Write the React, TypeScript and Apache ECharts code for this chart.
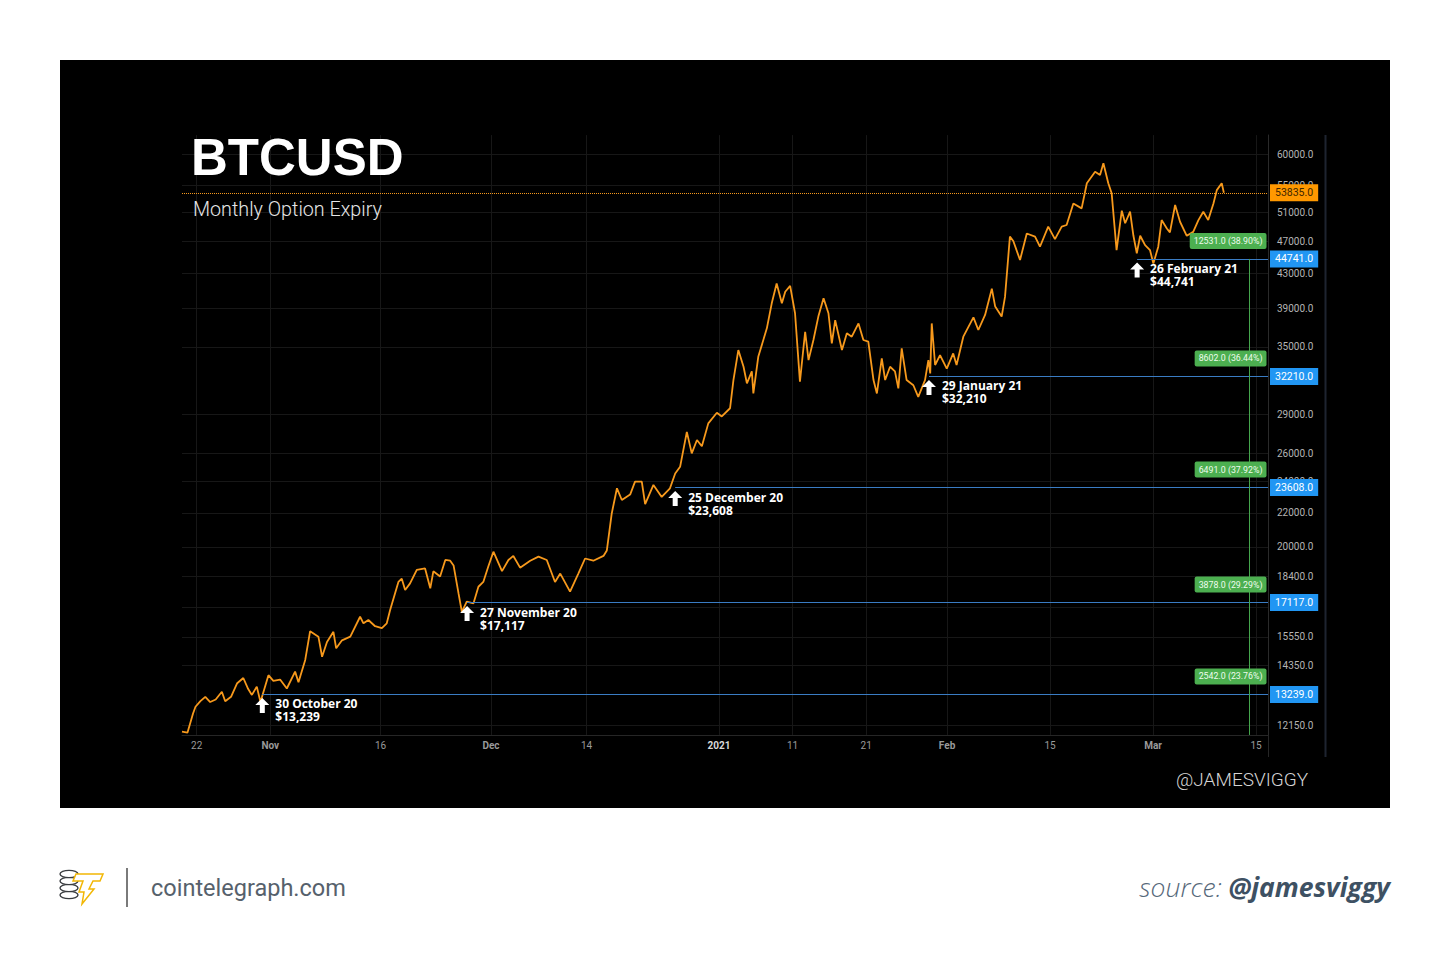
import React, { useEffect, useRef } from "react";
import * as echarts from "echarts";

// ---- price path (BTCUSD) ----
const times: string[] = [
  "2020-10-20T00:00", "2020-10-20T18:00", "2020-10-21T12:00", "2020-10-21T20:00", "2020-10-22T12:00",
  "2020-10-23T04:00", "2020-10-23T20:00", "2020-10-24T14:00", "2020-10-25T10:00", "2020-10-25T21:00",
  "2020-10-26T16:00", "2020-10-27T12:00", "2020-10-28T08:00", "2020-10-29T00:00", "2020-10-29T12:00",
  "2020-10-30T04:00", "2020-10-30T16:00", "2020-10-31T18:00", "2020-11-01T10:00", "2020-11-02T08:00",
  "2020-11-03T06:00", "2020-11-04T09:00", "2020-11-04T20:00", "2020-11-05T18:00", "2020-11-06T10:00",
  "2020-11-07T13:00", "2020-11-08T01:00", "2020-11-08T17:00", "2020-11-09T14:00", "2020-11-09T23:00",
  "2020-11-10T18:00", "2020-11-11T21:00", "2020-11-13T05:00", "2020-11-13T16:00", "2020-11-14T08:00",
  "2020-11-15T06:00", "2020-11-16T04:00", "2020-11-16T20:00", "2020-11-17T07:00", "2020-11-18T10:00",
  "2020-11-18T21:00", "2020-11-19T08:00", "2020-11-20T00:00", "2020-11-20T22:00", "2020-11-22T01:00",
  "2020-11-22T18:00", "2020-11-23T04:00", "2020-11-24T02:00", "2020-11-24T19:00", "2020-11-25T11:00",
  "2020-11-25T22:00", "2020-11-26T14:00", "2020-11-27T01:00", "2020-11-27T17:00", "2020-11-28T15:00",
  "2020-11-29T07:00", "2020-11-29T23:00", "2020-11-30T15:00", "2020-12-01T08:00", "2020-12-02T12:00",
  "2020-12-03T09:00", "2020-12-04T01:00", "2020-12-04T23:00", "2020-12-06T08:00", "2020-12-07T11:00",
  "2020-12-08T14:00", "2020-12-09T17:00", "2020-12-10T10:00", "2020-12-11T18:00", "2020-12-12T21:00",
  "2020-12-13T19:00", "2020-12-14T22:00", "2020-12-16T07:00", "2020-12-16T18:00", "2020-12-17T10:00",
  "2020-12-18T03:00", "2020-12-18T19:00", "2020-12-19T22:00", "2020-12-20T14:00", "2020-12-21T12:00",
  "2020-12-21T23:00", "2020-12-23T02:00", "2020-12-24T05:00", "2020-12-25T08:00", "2020-12-26T01:00",
  "2020-12-26T17:00", "2020-12-27T15:00", "2020-12-28T07:00", "2020-12-29T00:00", "2020-12-29T16:00",
  "2020-12-30T13:00", "2020-12-31T17:00", "2021-01-01T09:00", "2021-01-02T12:00", "2021-01-02T23:00",
  "2021-01-03T15:00", "2021-01-04T08:00", "2021-01-04T19:00", "2021-01-05T11:00", "2021-01-05T16:00",
  "2021-01-06T08:00", "2021-01-07T12:00", "2021-01-08T04:00", "2021-01-08T20:00", "2021-01-09T13:00",
  "2021-01-10T00:00", "2021-01-10T16:00", "2021-01-11T08:00", "2021-01-12T00:00", "2021-01-12T17:00",
  "2021-01-13T04:00", "2021-01-13T20:00", "2021-01-14T12:00", "2021-01-15T05:00", "2021-01-15T21:00",
  "2021-01-16T08:00", "2021-01-16T19:00", "2021-01-17T17:00", "2021-01-18T09:00", "2021-01-19T01:00",
  "2021-01-19T23:00", "2021-01-20T15:00", "2021-01-21T07:00", "2021-01-22T00:00", "2021-01-22T11:00",
  "2021-01-23T03:00", "2021-01-23T14:00", "2021-01-24T06:00", "2021-01-24T22:00", "2021-01-25T09:00",
  "2021-01-25T20:00", "2021-01-26T12:00", "2021-01-27T10:00", "2021-01-28T02:00", "2021-01-29T00:00",
  "2021-01-29T11:00", "2021-01-29T17:00", "2021-01-29T22:00", "2021-01-30T09:00", "2021-01-31T01:00",
  "2021-01-31T23:00", "2021-02-01T20:00", "2021-02-02T07:00", "2021-02-03T05:00", "2021-02-04T14:00",
  "2021-02-05T06:00", "2021-02-06T04:00", "2021-02-07T02:00", "2021-02-07T13:00", "2021-02-08T10:00",
  "2021-02-08T21:00", "2021-02-09T13:00", "2021-02-10T00:00", "2021-02-10T22:00", "2021-02-11T20:00",
  "2021-02-12T23:00", "2021-02-13T15:00", "2021-02-14T18:00", "2021-02-15T16:00", "2021-02-16T14:00",
  "2021-02-17T06:00", "2021-02-18T04:00", "2021-02-19T07:00", "2021-02-20T00:00", "2021-02-21T03:00",
  "2021-02-21T19:00", "2021-02-22T06:00", "2021-02-22T22:00", "2021-02-23T09:00", "2021-02-24T01:00",
  "2021-02-24T18:00", "2021-02-25T05:00", "2021-02-25T21:00", "2021-02-26T08:00", "2021-02-26T19:00",
  "2021-02-27T06:00", "2021-02-27T22:00", "2021-02-28T14:00", "2021-03-01T01:00", "2021-03-01T17:00",
  "2021-03-02T04:00", "2021-03-02T21:00", "2021-03-03T07:00", "2021-03-04T00:00", "2021-03-04T16:00",
  "2021-03-05T14:00", "2021-03-06T11:00", "2021-03-07T04:00", "2021-03-07T20:00", "2021-03-08T12:00",
  "2021-03-09T05:00", "2021-03-09T16:00", "2021-03-10T08:00", "2021-03-10T15:00",
];

const prices: number[] = [
  11930, 11900, 12550, 12790, 12990,
  13150, 12960, 13050, 13340, 12990,
  13150, 13660, 13860, 13440, 13220,
  13530, 12960, 13970, 13750, 13800,
  13460, 14110, 13700, 14580, 15800,
  15560, 14710, 15330, 15770, 15060,
  15400, 15560, 16450, 16150, 16300,
  16020, 15930, 16150, 16760, 18130,
  18300, 17730, 18060, 18750, 18830,
  17810, 18680, 18410, 19280, 19240,
  18990, 17570, 16680, 17160, 17080,
  17890, 18130, 18920, 19730, 18690,
  19280, 19500, 18870, 19240, 19460,
  19280, 18130, 18560, 17650, 18560,
  19360, 19240, 19500, 19800, 21960,
  23560, 22800, 23150, 24000, 24000,
  22540, 23780, 23000, 23560, 24560,
  25020, 27590, 25980, 26970, 26500,
  28250, 29100, 28800, 29470, 31890,
  34680, 33100, 31590, 32670, 30720,
  34030, 36850, 39520, 41780, 39520,
  40820, 41500, 38440, 31750, 36500,
  33720, 35670, 38080, 40090, 38440,
  35330, 37710, 34680, 36340, 36000,
  37360, 35670, 35500, 31890, 30720,
  33880, 31890, 33100, 32670, 31150,
  34840, 31890, 31430, 30430, 31890,
  33720, 32490, 37360, 33260, 34200,
  32930, 34350, 33260, 36000, 38000,
  36680, 38260, 41180, 39160, 38080,
  40240, 47620, 47050, 44610, 48040,
  47620, 46300, 48980, 47300, 48980,
  49200, 52260, 51540, 55300, 57090,
  56570, 58470, 55300, 53760, 45870,
  51210, 49440, 51060, 47740, 45460,
  47740, 46500, 45870, 44180, 46300,
  49880, 48720, 48200, 52030, 49650,
  47740, 48260, 49880, 51060, 49880,
  52260, 54240, 55300, 53835,
];

// ---- axes ----
const yTicks: number[] = [60000, 55000, 51000, 47000, 43000, 39000, 35000, 29000, 26000, 24000, 22000, 20000, 18400, 16900, 15550, 14350, 12150];
const xTickDates: string[] = ["2020-10-22", "2020-11-01", "2020-11-16", "2020-12-01", "2020-12-14", "2021-01-01", "2021-01-11", "2021-01-21", "2021-02-01", "2021-02-15", "2021-03-01", "2021-03-15"];
const xTickLabels: string[] = ["22", "Nov", "16", "Dec", "14", "2021", "11", "21", "Feb", "15", "Mar", "15"];
const xMinDate = "2020-10-20T00:00";
const xMaxDate = "2021-03-16T15:00";
const yMin = 11818;
const yMax = 63280;

// ---- monthly option expiries ----
const expiryDates: string[] = ["2020-10-30T22:00", "2020-11-27T18:00", "2020-12-26T01:00", "2021-01-29T13:00", "2021-02-26T20:00"];
const expiryNames: string[] = ["30 October 20", "27 November 20", "25 December 20", "29 January 21", "26 February 21"];
const expiryLevels: number[] = [13239, 17117, 23608, 32210, 44741];
const gainLabels: string[] = ["2542.0 (23.76%)", "3878.0 (29.29%)", "6491.0 (37.92%)", "8602.0 (36.44%)", "12531.0 (38.90%)"];
const lastPrice = 53835;
const measureDate = "2021-03-14T01:00";

const ts = (s: string): number => Date.parse(s.length === 10 ? `${s}T00:00:00Z` : `${s}:00Z`);
const money = (v: number): string => "$" + String(v).replace(/\B(?=(\d{3})+(?!\d))/g, ",");

const ORANGE = "#f7991c";
const BLUE_LINE = "#3a7cc4";
const BLUE_BOX = "#2196f3";
const GREEN = "#4caf50";

export default function App() {
  const ref = useRef<HTMLDivElement>(null);

  useEffect(() => {
    if (!ref.current) return;
    const chart = echarts.init(ref.current, null, { renderer: "svg" });
    const tMin = ts(xMinDate);
    const tMax = ts(xMaxDate);
    const data = times.map((t, i) => [ts(t), prices[i]]);
    const yLow = yMin * 1.0002;
    const tLow = tMin + 60000;

    const gridLines: any[] = [
      ...yTicks.map((v) => [
        { name: v.toFixed(1), coord: [tLow, v] },
        { name: v.toFixed(1), coord: [tMax, v] },
      ]),
      ...xTickDates.map((d, i) => {
        const lab = xTickLabels[i];
        const isYear = lab === "2021";
        const isMonth = /[A-Za-z]/.test(lab);
        return [
          {
            name: lab,
            coord: [ts(d), yMax * 0.9998],
            label: {
              distance: 6,
              fontWeight: isYear || isMonth ? "bold" : "normal",
              color: isYear ? "#d8d8d8" : "#9a9a9a",
            },
          },
          { name: lab, coord: [ts(d), yLow] },
        ];
      }),
    ];

    const boxLabel = (bg: string, fg: string) => ({
      show: true,
      position: "end",
      distance: 2,
      backgroundColor: bg,
      color: fg,
      padding: [3, 5, 3, 5],
      fontSize: 10.5,
      fontFamily: "Roboto",
    });

    const levelLines: any[] = [
      ...expiryLevels.map((v, i) => [
        {
          name: v.toFixed(1),
          coord: [ts(expiryDates[i]), v],
          lineStyle: { color: BLUE_LINE, width: 1, type: "solid" },
          label: boxLabel(BLUE_BOX, "#ffffff"),
        },
        { name: v.toFixed(1), coord: [tMax, v] },
      ]),
      [
        {
          name: lastPrice.toFixed(1),
          coord: [tLow, lastPrice],
          lineStyle: { color: ORANGE, width: 1, type: "dotted" },
          label: boxLabel("#ff9800", "#3d2600"),
        },
        { name: lastPrice.toFixed(1), coord: [tMax, lastPrice] },
      ],
      [
        {
          name: "",
          coord: [ts(measureDate), expiryLevels[expiryLevels.length - 1]],
          lineStyle: { color: "#45a64d", width: 1, type: "solid" },
          label: { show: false },
        },
        { name: "", coord: [ts(measureDate), yLow] },
      ],
    ];

    const points: any[] = [
      ...expiryLevels.map((v, i) => ({
        name: gainLabels[i],
        coord: [tMax, v],
        symbol: "rect",
        symbolSize: 1,
        itemStyle: { color: "rgba(0,0,0,0)" },
        label: {
          show: true,
          position: "left",
          distance: 1,
          offset: [0, -18],
          formatter: gainLabels[i],
          backgroundColor: GREEN,
          color: "#eefcee",
          padding: [4, 4, 3, 4],
          borderRadius: 2,
          fontSize: 8.8,
          fontFamily: "Roboto",
        },
      })),
      ...expiryLevels.map((v, i) => ({
        name: expiryNames[i],
        coord: [ts(expiryDates[i]), v],
        symbol: "path://M7,0L14,7L9.5,7L9.5,15L4.5,15L4.5,7L0,7Z",
        symbolSize: [14, 15],
        symbolOffset: [0, 11],
        itemStyle: { color: "#ffffff" },
        label: {
          show: true,
          position: "right",
          distance: 6,
          offset: [0, 5],
          formatter: `${expiryNames[i]}\n${money(v)}`,
          color: "#ffffff",
          fontWeight: "bold",
          fontSize: 12,
          lineHeight: 13,
          fontFamily: "Open Sans",
        },
      })),
    ];

    const option: any = {
      animation: false,
      backgroundColor: "#ffffff",
      grid: { left: 182, right: 182, top: 135, bottom: 233, containLabel: false, outerBoundsMode: "none" },
      xAxis: {
        type: "time",
        min: tMin,
        max: tMax,
        axisLabel: { show: false },
        axisTick: { show: false },
        splitLine: { show: false },
        axisLine: { show: true, lineStyle: { color: "#262626", width: 1 } },
      },
      yAxis: {
        type: "log",
        logBase: 10,
        min: yMin,
        max: yMax,
        position: "right",
        axisLabel: { show: false },
        axisTick: { show: false },
        splitLine: { show: false },
        minorSplitLine: { show: false },
        axisLine: { show: true, lineStyle: { color: "#2a2a2a", width: 1 } },
      },
      tooltip: { show: false },
      series: [
        {
          name: "grid",
          type: "line",
          data,
          showSymbol: false,
          silent: true,
          z: 1,
          lineStyle: { opacity: 0 },
          markLine: {
            silent: true,
            z: 1,
            symbol: ["none", "none"],
            lineStyle: { color: "#171717", width: 1, type: "solid" },
            label: {
              show: true,
              position: "end",
              distance: 9,
              formatter: "{b}",
              color: "#b4b4b4",
              fontSize: 10,
              fontFamily: "Roboto",
            },
            data: gridLines,
          },
        },
        {
          name: "BTCUSD",
          type: "line",
          data,
          showSymbol: false,
          z: 3,
          lineStyle: { color: ORANGE, width: 1.8 },
        },
        {
          name: "levels",
          type: "line",
          data,
          showSymbol: false,
          silent: true,
          z: 4,
          lineStyle: { opacity: 0 },
          markLine: {
            silent: true,
            z: 6,
            symbol: ["none", "none"],
            label: { formatter: "{b}" },
            data: levelLines,
          },
          markPoint: {
            silent: true,
            z: 7,
            data: points,
          },
        },
      ],
      graphic: {
        elements: [
          { type: "rect", z: -10, silent: true, shape: { x: 60, y: 60, width: 1330, height: 748 }, style: { fill: "#000000" } },
          { type: "line", z: 5, silent: true, shape: { x1: 1325.5, y1: 135, x2: 1325.5, y2: 757 }, style: { stroke: "#1e2430", lineWidth: 2 } },
          { type: "line", z: 5, silent: true, shape: { x1: 1268.5, y1: 735, x2: 1268.5, y2: 757 }, style: { stroke: "#262626", lineWidth: 1 } },
          {
            type: "text", z: 20, x: 191, y: 157,
            style: { text: "BTCUSD", fill: "#ffffff", font: "bold 51px 'Liberation Sans'", textAlign: "left", textVerticalAlign: "middle" },
          },
          {
            type: "text", z: 20, x: 193, y: 209, scaleX: 0.94,
            style: { text: "Monthly Option Expiry", fill: "#e6e6e6", font: "300 21px Roboto", textAlign: "left", textVerticalAlign: "middle" },
          },
          {
            type: "text", z: 20, x: 1176, y: 779,
            style: { text: "@JAMESVIGGY", fill: "#d4d4d4", font: "300 19px Roboto", textAlign: "left", textVerticalAlign: "middle" },
          },
          // footer logo (coin stack + bolt)
          { type: "ellipse", z: 20, shape: { cx: 69, cy: 895, rx: 9, ry: 3.6 }, style: { fill: "#ffffff", stroke: "#3a3d40", lineWidth: 1.4 } },
          { type: "ellipse", z: 21, shape: { cx: 69, cy: 888, rx: 9, ry: 3.6 }, style: { fill: "#ffffff", stroke: "#3a3d40", lineWidth: 1.4 } },
          { type: "ellipse", z: 22, shape: { cx: 69, cy: 881, rx: 9, ry: 3.6 }, style: { fill: "#ffffff", stroke: "#3a3d40", lineWidth: 1.4 } },
          { type: "ellipse", z: 23, shape: { cx: 69, cy: 874, rx: 9, ry: 3.6 }, style: { fill: "#ffffff", stroke: "#3a3d40", lineWidth: 1.4 } },
          {
            type: "polygon", z: 24,
            shape: { points: [[76, 874], [103, 874], [100, 881], [93, 881], [89, 889], [94, 889], [82, 904], [84, 892], [79, 892], [83, 881], [73, 881]] },
            style: { fill: "#ffffff", stroke: "#f2b705", lineWidth: 1.5 },
          },
          { type: "rect", z: 20, shape: { x: 126, y: 868, width: 2, height: 39 }, style: { fill: "#7a7a7a" } },
          {
            type: "text", z: 20, x: 151, y: 888,
            style: { text: "cointelegraph.com", fill: "#56616c", font: "23.5px Roboto", textAlign: "left", textVerticalAlign: "middle" },
          },
          {
            type: "text", z: 20, x: 1390, y: 887,
            style: {
              text: "{a|source: }{b|@jamesviggy}",
              textAlign: "right",
              textVerticalAlign: "middle",
              rich: {
                a: { fontFamily: "Open Sans", fontStyle: "italic", fontWeight: 300, fontSize: 26.5, fill: "#56687a", color: "#56687a" },
                b: { fontFamily: "Open Sans", fontStyle: "italic", fontWeight: "bold", fontSize: 26.5, fill: "#3e5163", color: "#3e5163" },
              },
            },
          },
        ],
      },
    };

    chart.setOption(option);
    return () => chart.dispose();
  }, []);

  return <div ref={ref} style={{ position: "absolute", left: 0, top: 0, width: 1450, height: 968 }} />;
}
